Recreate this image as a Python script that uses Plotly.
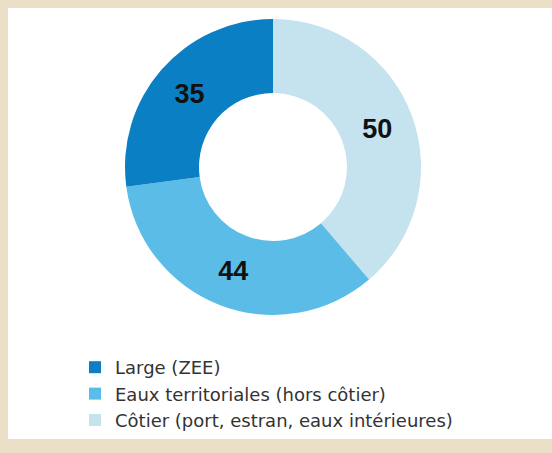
import plotly.graph_objects as go

W, H = 552, 453

categories = ["Large (ZEE)", "Eaux territoriales (hors côtier)", "Côtier (port, estran, eaux intérieures)"]
values = [35, 44, 50]
colors = ["#0A7FC4", "#5BBCE8", "#C5E2EF"]

BEIGE = "#EBDFC8"

# drawn clockwise from 12 o'clock in reverse order; legend reversed back
fig = go.Figure()
fig.add_trace(go.Pie(
    labels=categories[::-1],
    values=values[::-1],
    hole=0.5,
    sort=False,
    direction="clockwise",
    rotation=0,
    marker=dict(colors=colors[::-1], line=dict(width=0)),
    textinfo="value",
    textposition="inside",
    insidetextorientation="horizontal",
    textfont=dict(family="Liberation Sans, Arial, sans-serif", size=27, color="#111111", weight="bold"),
    domain=dict(x=[125 / W, 421 / W], y=[(H - 315) / H, (H - 19) / H]),
    showlegend=True,
    hoverinfo="label+value",
))

fig.update_layout(
    width=W, height=H,
    margin=dict(l=0, r=0, t=0, b=0),
    paper_bgcolor=BEIGE,
    plot_bgcolor="white",
    shapes=[dict(type="rect", xref="paper", yref="paper",
                 x0=8 / W, x1=1, y0=(H - 439) / H, y1=(H - 8) / H,
                 fillcolor="white", line=dict(width=0), layer="below")],
    legend=dict(
        x=75 / W, y=(H - 349) / H, xanchor="left", yanchor="top",
        font=dict(family="DejaVu Sans, Liberation Sans, sans-serif", size=18, color="#333333"),
        bgcolor="rgba(0,0,0,0)",
        itemclick=False, itemdoubleclick=False,
        traceorder="reversed",
    ),
)

fig.write_html("out.html")
